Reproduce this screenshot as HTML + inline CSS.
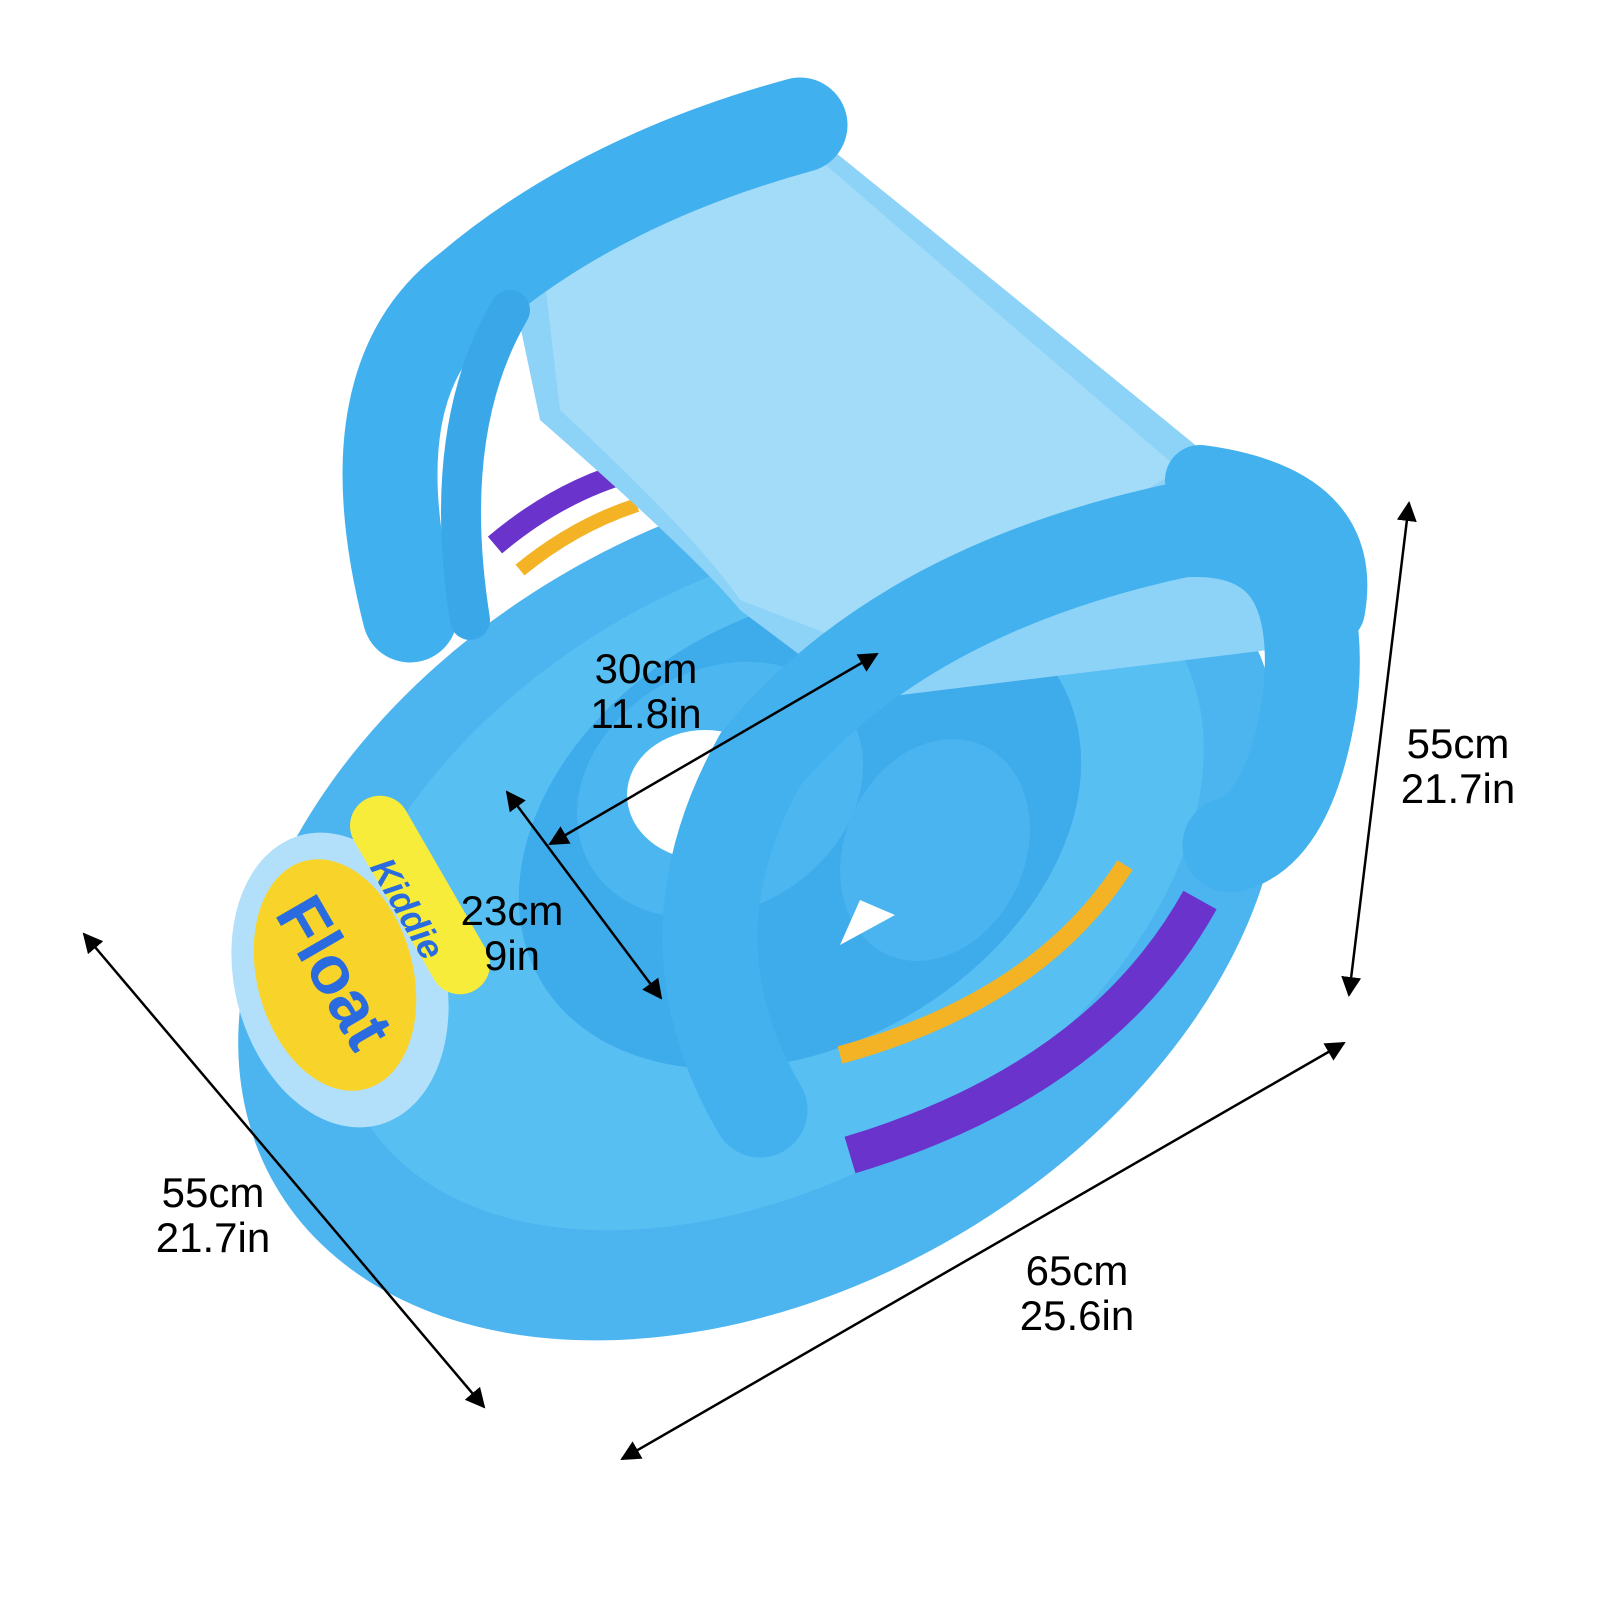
<!DOCTYPE html>
<html><head><meta charset="utf-8"><style>
html,body{margin:0;padding:0;background:#fff;}
svg{display:block}
text{font-family:"Liberation Sans",sans-serif;}
</style></head><body>
<svg width="1600" height="1600" viewBox="0 0 1600 1600" xmlns="http://www.w3.org/2000/svg">
<defs>
<marker id="ah" viewBox="0 0 10 10" refX="9" refY="5" markerWidth="8" markerHeight="8" orient="auto-start-reverse"><path d="M0,0 L10,5 L0,10 z" fill="#000"/></marker>
</defs>
<rect width="1600" height="1600" fill="#fff"/>
<!-- base -->
<ellipse cx="760" cy="905" rx="560" ry="385" transform="rotate(-30 760 905)" fill="#4cb5ef"/>
<ellipse cx="770" cy="880" rx="470" ry="300" transform="rotate(-30 770 880)" fill="#58bff3"/>
<!-- inner seat ring -->
<ellipse cx="800" cy="830" rx="300" ry="215" transform="rotate(-30 800 830)" fill="#3eabeb"/>
<ellipse cx="720" cy="790" rx="150" ry="120" transform="rotate(-30 720 790)" fill="#4bb6f0"/>
<ellipse cx="705" cy="795" rx="78" ry="65" fill="#fff"/>
<!-- stripes left -->
<path d="M495 545 Q560 490 635 470" stroke="#6a34cc" stroke-width="22" fill="none"/>
<path d="M520 570 Q575 525 637 505" stroke="#f4b324" stroke-width="14" fill="none"/>
<!-- stripes right -->
<path d="M850 1155 Q1100 1080 1200 900" stroke="#6a34cc" stroke-width="38" fill="none"/>
<path d="M840 1055 Q1040 1000 1125 865" stroke="#f4b324" stroke-width="18" fill="none"/>
<!-- canopy -->
<path d="M500 230 L820 140 Q1080 350 1360 580 L1350 640 L860 700 L740 610 Q700 560 540 420 Z" fill="#8dd3f8"/>
<path d="M540 240 L820 160 Q1040 350 1180 470 L870 650 L740 600 Q700 540 560 410 Z" fill="#a3dcf8"/>
<!-- left tube -->
<path d="M410 615 Q350 380 470 290 Q600 180 800 125" stroke="#41b0ee" stroke-width="95" fill="none" stroke-linecap="round"/>
<path d="M470 620 Q440 430 510 310" stroke="#3aa8e8" stroke-width="40" fill="none" stroke-linecap="round"/>
<!-- right tube ring -->
<path d="M760 1110 Q660 940 760 760 Q900 590 1180 530 Q1330 520 1310 700 Q1290 830 1230 845" stroke="#42b1ee" stroke-width="95" fill="none" stroke-linecap="round"/>
<path d="M1200 480 Q1350 500 1330 610" stroke="#42b1ee" stroke-width="70" fill="none" stroke-linecap="round"/>
<ellipse cx="935" cy="850" rx="90" ry="115" transform="rotate(25 935 850)" fill="#49b4ef"/>
<path d="M840 945 L895 915 L860 900 Z" fill="#fff"/>
<!-- label -->
<ellipse cx="340" cy="980" rx="105" ry="150" transform="rotate(-15 340 980)" fill="#b2e0fa"/>
<ellipse cx="335" cy="975" rx="78" ry="118" transform="rotate(-15 335 975)" fill="#f8d42a"/>
<rect x="390" y="785" width="60" height="220" rx="30" transform="rotate(-30 420 895)" fill="#f8ec3a"/>
<text x="330" y="975" font-family="Liberation Serif,serif" font-weight="bold" font-size="68" fill="#2a6be0" transform="rotate(60 330 975)" text-anchor="middle" dominant-baseline="middle">Float</text>
<text x="405" y="910" font-family="Liberation Serif,serif" font-weight="bold" font-style="italic" font-size="36" fill="#2a6be0" transform="rotate(60 405 910)" text-anchor="middle" dominant-baseline="middle">Kiddie</text>
<!-- arrows -->
<g stroke="#000" stroke-width="2.5" fill="none" marker-start="url(#ah)" marker-end="url(#ah)">
<line x1="84" y1="934" x2="484" y2="1407"/>
<line x1="622" y1="1459" x2="1344" y2="1043"/>
<line x1="1409" y1="503" x2="1349" y2="995"/>
<line x1="550" y1="844" x2="877" y2="654"/>
<line x1="507" y1="792" x2="661" y2="998"/>
</g>
<g font-size="42" text-anchor="middle" fill="#000">
<text x="646" y="683">30cm</text><text x="646" y="728">11.8in</text>
<text x="512" y="925">23cm</text><text x="512" y="970">9in</text>
<text x="1458" y="758">55cm</text><text x="1458" y="803">21.7in</text>
<text x="213" y="1207">55cm</text><text x="213" y="1252">21.7in</text>
<text x="1077" y="1285">65cm</text><text x="1077" y="1330">25.6in</text>
</g>
</svg>
</body></html>
